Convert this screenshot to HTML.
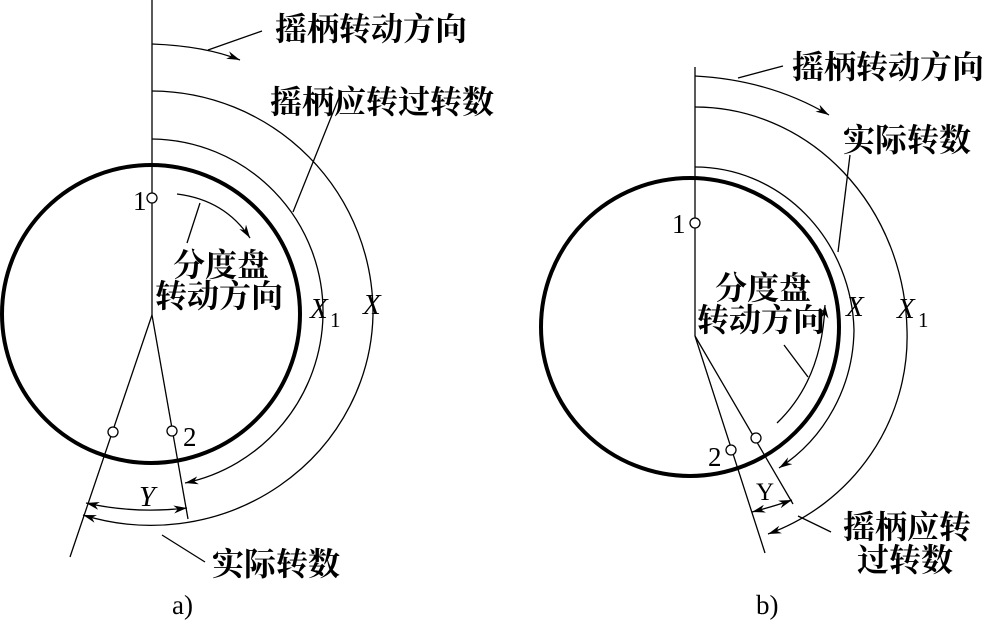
<!DOCTYPE html>
<html><head><meta charset="utf-8"><style>
html,body{margin:0;padding:0;background:#fff;}
svg{display:block}
text{font-family:"Liberation Serif","Noto Serif CJK SC",serif;fill:#000;}
.c{font-size:32px;font-weight:bold}
.i{font-style:italic;font-size:29px}
</style></head><body>
<svg width="982" height="623" viewBox="0 0 982 623" xmlns="http://www.w3.org/2000/svg">
<defs>
<marker id="ar" viewBox="0 0 10 6" refX="10" refY="3" markerWidth="14" markerHeight="8" markerUnits="userSpaceOnUse" orient="auto">
<path d="M0,0 L10,3 L0,6 L3,3z" fill="#000"/></marker>
<marker id="as" viewBox="0 0 10 6" refX="0" refY="3" markerWidth="14" markerHeight="8" markerUnits="userSpaceOnUse" orient="auto">
<path d="M10,0 L0,3 L10,6 L7,3z" fill="#000"/></marker>
</defs>
<g fill="none" stroke="#000" stroke-width="1.3">
<circle cx="151" cy="314" r="149" stroke-width="4"/>
<line x1="152" y1="0" x2="152" y2="315"/>
<path d="M152,44 Q205,46 240,60" marker-end="url(#ar)"/>
<line x1="208" y1="50" x2="262" y2="31"/>
<path d="M152,139 A173 173 0 0 1 323 315 A173 175 0 0 1 185 483" marker-end="url(#ar)"/>
<path d="M152,91 A222 222 0 0 1 373 315 A222 215 0 0 1 83 515" marker-end="url(#ar)"/>
<line x1="152" y1="315" x2="70" y2="557"/>
<line x1="152" y1="315" x2="188" y2="519"/>
<path d="M86,503 Q135,514 187,508" marker-start="url(#as)" marker-end="url(#ar)"/>
<path d="M177,194 Q225,200 250,238" marker-end="url(#ar)"/>
<line x1="200" y1="203" x2="187" y2="243"/>
<line x1="340" y1="95" x2="293" y2="212"/>
<line x1="162" y1="535" x2="205" y2="562"/>
<circle cx="152" cy="198" r="5" fill="#fff"/>
<circle cx="113" cy="432" r="5" fill="#fff"/>
<circle cx="172" cy="431" r="5" fill="#fff"/>
<circle cx="690" cy="327" r="149" stroke-width="4"/>
<line x1="695" y1="67" x2="695" y2="336"/>
<path d="M695,76 Q770,80 829,115" marker-end="url(#ar)"/>
<line x1="738" y1="78" x2="783" y2="66"/>
<path d="M695,107 A212 228 0 0 1 907 330 A212 210 0 0 1 768 534" marker-end="url(#ar)"/>
<path d="M695,167 A159 168 0 0 1 854 330 A159 165 0 0 1 779 468" marker-end="url(#ar)"/>
<line x1="695" y1="336" x2="765" y2="553"/>
<line x1="695" y1="336" x2="793" y2="504"/>
<path d="M752,512 Q775,506 792,500" marker-start="url(#as)" marker-end="url(#ar)"/>
<path d="M777,423 Q822,380 825,305" marker-end="url(#ar)"/>
<line x1="784" y1="345" x2="808" y2="377"/>
<line x1="850" y1="155" x2="838" y2="252"/>
<line x1="798" y1="516" x2="831" y2="532"/>
<circle cx="695" cy="223" r="5" fill="#fff"/>
<circle cx="731" cy="450" r="5" fill="#fff"/>
<circle cx="756" cy="438" r="5" fill="#fff"/>
</g>
<text class="c" x="275" y="40">摇柄转动方向</text>
<text class="c" x="270" y="113">摇柄应转过转数</text>
<text class="c" x="173" y="276">分度盘</text>
<text class="c" x="155" y="307">转动方向</text>
<text class="c" x="212" y="575">实际转数</text>
<text class="i" x="310" y="318">X</text><text x="330" y="327" style="font-size:21px">1</text>
<text class="i" x="363" y="314">X</text>
<text class="i" x="139" y="506">Y</text>
<text x="133" y="210" style="font-size:27px">1</text>
<text x="183" y="446" style="font-size:27px">2</text>
<text x="172" y="614" style="font-size:27px">a)</text>
<text class="c" x="792" y="78">摇柄转动方向</text>
<text class="c" x="843" y="151">实际转数</text>
<text class="c" x="715" y="299">分度盘</text>
<text class="c" x="697" y="331">转动方向</text>
<text class="c" x="843" y="538">摇柄应转</text>
<text class="c" x="857" y="571">过转数</text>
<text class="i" x="846" y="316">X</text>
<text class="i" x="897" y="318">X</text><text x="918" y="327" style="font-size:21px">1</text>
<text x="756" y="500" style="font-size:25px">Y</text>
<text x="672" y="233" style="font-size:27px">1</text>
<text x="708" y="466" style="font-size:27px">2</text>
<text x="756" y="614" style="font-size:27px">b)</text>
</svg>
</body></html>
